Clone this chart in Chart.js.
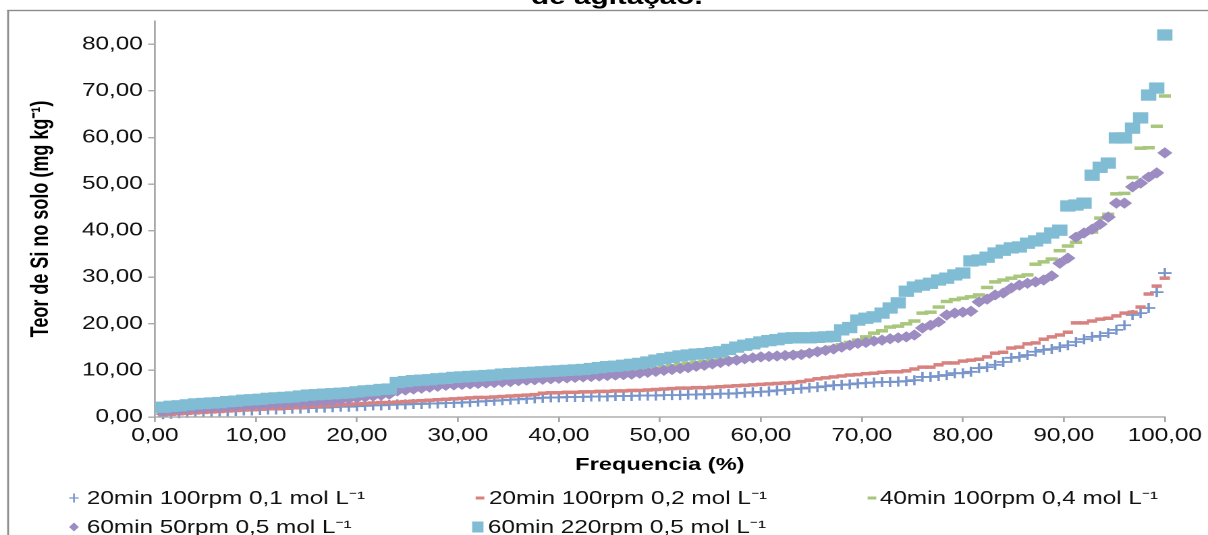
<!DOCTYPE html>
<html>
<head>
<meta charset="utf-8">
<script src="https://cdn.jsdelivr.net/npm/chart.js@4.4.0/dist/chart.umd.min.js"></script>
<style>
html,body{margin:0;padding:0;background:#ffffff;overflow:hidden;}
</style>
</head>
<body>
<canvas id="c" width="895" height="535" style="width:1208px;height:535px;display:block;"></canvas>
<script>
// ---------------- DATA ----------------
const chartTitle = "de agitação.";
const xTitle = "Frequencia (%)";
const yTitle = "Teor de Si no solo (mg kg⁻¹)";
const seriesNames = [
  "20min 100rpm 0,1 mol L⁻¹",
  "20min 100rpm 0,2 mol L⁻¹",
  "40min 100rpm 0,4 mol L⁻¹",
  "60min 50rpm 0,5 mol L⁻¹",
  "60min 220rpm 0,5 mol L⁻¹"
];
const xTicks = [0, 10, 20, 30, 40, 50, 60, 70, 80, 90, 100];
const yTicks = [0, 10, 20, 30, 40, 50, 60, 70, 80];

// cumulative frequency (%) of each ranked sample
const freq = [0.8, 1.6, 2.4, 3.2, 4.0, 4.8, 5.6, 6.4, 7.2, 8.0,
  8.8, 9.6, 10.4, 11.2, 12.0, 12.8, 13.6, 14.4, 15.2, 16.0,
  16.8, 17.6, 18.4, 19.2, 20.0, 20.8, 21.6, 22.4, 23.2, 24.0,
  24.8, 25.6, 26.4, 27.2, 28.0, 28.8, 29.6, 30.4, 31.2, 32.0,
  32.8, 33.6, 34.4, 35.2, 36.0, 36.8, 37.6, 38.4, 39.2, 40.0,
  40.8, 41.6, 42.4, 43.2, 44.0, 44.8, 45.6, 46.4, 47.2, 48.0,
  48.8, 49.6, 50.4, 51.2, 52.0, 52.8, 53.6, 54.4, 55.2, 56.0,
  56.8, 57.6, 58.4, 59.2, 60.0, 60.8, 61.6, 62.4, 63.2, 64.0,
  64.8, 65.6, 66.4, 67.2, 68.0, 68.8, 69.6, 70.4, 71.2, 72.0,
  72.8, 73.6, 74.4, 75.2, 76.0, 76.8, 77.6, 78.4, 79.2, 80.0,
  80.8, 81.6, 82.4, 83.2, 84.0, 84.8, 85.6, 86.4, 87.2, 88.0,
  88.8, 89.6, 90.4, 91.2, 92.0, 92.8, 93.6, 94.4, 95.2, 96.0,
  96.8, 97.6, 98.4, 99.2, 100.0];

const s1 = [0.6, 0.7, 0.8, 0.9, 1.0, 1.0, 1.1, 1.2, 1.2, 1.3,
  1.4, 1.4, 1.5, 1.6, 1.6, 1.7, 1.8, 1.8, 1.9, 2.0,
  2.0, 2.1, 2.2, 2.2, 2.3, 2.4, 2.5, 2.5, 2.6, 2.7,
  2.7, 2.8, 2.8, 2.9, 2.9, 3.0, 3.0, 3.1, 3.2, 3.3,
  3.4, 3.5, 3.6, 3.7, 3.8, 3.9, 4.0, 4.1, 4.2, 4.2,
  4.3, 4.3, 4.3, 4.4, 4.4, 4.4, 4.5, 4.5, 4.5, 4.6,
  4.6, 4.6, 4.7, 4.7, 4.7, 4.8, 4.8, 4.9, 4.9, 5.0,
  5.0, 5.1, 5.2, 5.3, 5.4, 5.5, 5.7, 5.8, 6.0, 6.1,
  6.3, 6.4, 6.6, 6.8, 6.9, 7.0, 7.2, 7.3, 7.4, 7.5,
  7.5, 7.6, 7.7, 7.9, 8.6, 8.6, 8.8, 9.0, 9.4, 9.4,
  9.7, 10.5, 10.7, 11.2, 11.8, 12.7, 12.9, 13.3, 14.0, 14.4,
  14.6, 15.0, 15.4, 16.1, 16.7, 17.2, 17.4, 18.0, 18.7, 19.7,
  21.9, 22.3, 23.4, 26.8, 30.9];

const s2 = [0.4, 0.6, 0.7, 0.8, 0.9, 1.0, 1.1, 1.2, 1.3, 1.4,
  1.5, 1.6, 1.7, 1.8, 1.8, 1.9, 2.0, 2.1, 2.2, 2.3,
  2.4, 2.5, 2.6, 2.7, 2.8, 2.9, 3.0, 3.1, 3.1, 3.2,
  3.3, 3.4, 3.5, 3.6, 3.7, 3.8, 3.9, 4.0, 4.1, 4.2,
  4.2, 4.3, 4.4, 4.5, 4.6, 4.7, 4.8, 5.1, 5.2, 5.2,
  5.3, 5.3, 5.4, 5.4, 5.5, 5.5, 5.6, 5.6, 5.7, 5.7,
  5.8, 5.9, 6.0, 6.1, 6.2, 6.2, 6.3, 6.3, 6.4, 6.5,
  6.6, 6.7, 6.8, 6.9, 7.0, 7.1, 7.2, 7.3, 7.4, 7.6,
  7.9, 8.2, 8.4, 8.6, 8.8, 9.0, 9.1, 9.3, 9.4, 9.6,
  9.7, 9.7, 9.9, 10.3, 10.7, 10.7, 11.2, 11.6, 11.6, 12.0,
  12.2, 12.4, 12.9, 13.7, 13.9, 14.8, 15.0, 15.7, 15.9, 16.7,
  17.2, 17.6, 18.2, 20.2, 20.2, 20.6, 21.0, 21.2, 21.7, 22.3,
  22.5, 23.6, 26.4, 28.1, 29.8];

const s3 = [1.6, 1.8, 2.0, 2.1, 2.2, 2.3, 2.4, 2.5, 2.6, 2.7,
  2.8, 2.9, 3.0, 3.1, 3.2, 3.3, 3.4, 3.5, 3.6, 3.7,
  3.8, 3.9, 4.1, 4.3, 4.5, 4.7, 4.9, 5.1, 5.3, 6.0,
  6.2, 6.4, 6.6, 6.8, 7.0, 7.2, 7.3, 7.4, 7.5, 7.6,
  7.7, 7.8, 7.9, 8.0, 8.1, 8.2, 8.3, 8.4, 8.5, 8.6,
  8.7, 8.8, 8.9, 9.0, 9.1, 9.2, 9.3, 9.5, 9.7, 9.9,
  10.1, 10.4, 10.7, 11.0, 11.3, 11.5, 11.7, 11.9, 12.1, 12.2,
  12.4, 12.5, 12.6, 12.8, 13.0, 13.2, 13.3, 13.4, 13.6, 13.8,
  14.0, 14.2, 14.6, 15.0, 15.5, 16.0, 16.5, 17.2, 18.0, 18.5,
  19.3, 19.5, 20.0, 20.6, 22.3, 22.5, 23.6, 24.8, 25.2, 25.5,
  25.8, 26.2, 27.8, 29.0, 29.4, 29.8, 30.2, 30.5, 32.8, 33.3,
  33.9, 35.7, 36.7, 37.5, 39.5, 39.7, 42.7, 43.5, 47.9, 48.0,
  51.4, 57.7, 57.8, 62.4, 68.9];

const s4 = [1.2, 1.4, 1.5, 1.7, 1.8, 1.9, 2.0, 2.1, 2.2, 2.3,
  2.4, 2.5, 2.6, 2.7, 2.8, 2.9, 3.0, 3.1, 3.2, 3.3,
  3.4, 3.5, 3.7, 3.9, 4.1, 4.3, 4.5, 4.7, 4.9, 5.6,
  5.8, 6.0, 6.2, 6.4, 6.6, 6.8, 6.9, 7.0, 7.1, 7.2,
  7.3, 7.4, 7.5, 7.6, 7.8, 7.9, 8.0, 8.1, 8.2, 8.3,
  8.4, 8.5, 8.6, 8.7, 8.8, 8.9, 9.0, 9.1, 9.2, 9.4,
  9.6, 9.8, 10.0, 10.2, 10.4, 10.6, 10.9, 11.1, 11.4, 11.7,
  12.0, 12.2, 12.5, 12.7, 12.9, 13.0, 13.1, 13.2, 13.3, 13.4,
  13.7, 14.0, 14.3, 14.6, 15.0, 15.4, 15.8, 16.0, 16.3, 16.5,
  16.8, 17.0, 17.2, 17.6, 19.1, 19.7, 20.4, 21.9, 22.3, 22.5,
  22.7, 24.7, 25.3, 26.2, 26.6, 27.7, 28.3, 28.7, 29.0, 29.4,
  30.3, 33.0, 34.1, 38.6, 39.5, 40.3, 41.4, 42.9, 45.9, 45.9,
  49.4, 50.2, 51.5, 52.4, 56.7];

const s5 = [2.1, 2.3, 2.4, 2.6, 2.8, 2.9, 3.0, 3.1, 3.3, 3.4,
  3.6, 3.7, 3.8, 4.0, 4.1, 4.2, 4.3, 4.5, 4.7, 4.8,
  4.9, 5.0, 5.1, 5.2, 5.4, 5.6, 5.7, 5.9, 6.0, 7.4,
  7.6, 7.8, 7.9, 8.0, 8.2, 8.3, 8.5, 8.6, 8.7, 8.8,
  8.9, 9.0, 9.2, 9.3, 9.4, 9.5, 9.6, 9.7, 9.8, 9.9,
  10.0, 10.1, 10.2, 10.4, 10.6, 10.8, 10.9, 11.1, 11.3, 11.5,
  11.8, 12.2, 12.5, 12.8, 13.1, 13.3, 13.5, 13.6, 13.8, 14.0,
  14.5, 15.0, 15.4, 15.7, 16.1, 16.4, 16.6, 16.9, 17.0, 17.0,
  17.0, 17.1, 17.2, 17.3, 18.7, 19.2, 20.8, 21.2, 21.5, 22.3,
  23.4, 24.5, 27.0, 27.9, 28.3, 28.7, 29.4, 29.8, 30.5, 30.9,
  33.5, 33.7, 34.3, 35.2, 35.8, 36.3, 36.5, 37.3, 37.8, 38.4,
  39.5, 40.1, 45.3, 45.5, 45.9, 51.9, 53.6, 54.5, 59.9, 59.9,
  62.0, 64.2, 69.1, 70.6, 82.0];

// ---------------- STYLE ----------------
const FONT = '"Liberation Sans", Arial, Helvetica, sans-serif';
const AXIS_COLOR = '#a9a9a9';
const seriesValues = [s1, s2, s3, s4, s5];
const colors = ['#7895cb', '#d8827f', '#a8c77c', '#9c8cc1', '#80bdd4'];
const styles = [
  {pointStyle: 'cross', radius: 5.0, border: 1.8},
  {pointStyle: 'line', radius: 3.8, border: 3.5},
  {pointStyle: 'line', radius: 4.5, border: 3.5},
  {pointStyle: 'rectRot', radius: 5.6, border: 0},
  {pointStyle: 'rect', radius: 8.0, border: 0}
];

const fmt = v => Number(v).toFixed(2).replace('.', ',');

const datasets = seriesValues.map((vals, k) => ({
  label: seriesNames[k],
  data: freq.map((f, i) => ({x: f, y: vals[i]})),
  showLine: false,
  pointStyle: styles[k].pointStyle,
  pointRadius: styles[k].radius,
  pointHoverRadius: styles[k].radius,
  pointBorderWidth: styles[k].border,
  pointBorderColor: colors[k],
  pointBackgroundColor: colors[k],
  borderColor: colors[k],
  backgroundColor: colors[k],
  order: 5 - k,
  clip: false
}));

// legend positions (canvas units)
const legendItems = [
  {mx: 54.8, tx: 64.4, y: 498},
  {mx: 355.6, tx: 362.2, y: 498},
  {mx: 646.0, tx: 651.9, y: 498},
  {mx: 54.8, tx: 64.4, y: 527},
  {mx: 354.0, tx: 361.5, y: 527}
];

function drawMarker(ctx, k, x, y) {
  ctx.save();
  ctx.strokeStyle = colors[k];
  ctx.fillStyle = colors[k];
  const st = styles[k].pointStyle;
  if (st === 'cross') {
    ctx.lineWidth = 1.3;
    ctx.beginPath();
    ctx.moveTo(x - 3.5, y); ctx.lineTo(x + 3.5, y);
    ctx.moveTo(x, y - 4.5); ctx.lineTo(x, y + 4.5);
    ctx.stroke();
  } else if (st === 'line') {
    ctx.lineWidth = 3;
    ctx.beginPath();
    ctx.moveTo(x - 3.2, y); ctx.lineTo(x + 3.2, y);
    ctx.stroke();
  } else if (st === 'rectRot') {
    ctx.beginPath();
    ctx.moveTo(x, y - 4.5); ctx.lineTo(x + 3.6, y); ctx.lineTo(x, y + 4.5); ctx.lineTo(x - 3.6, y);
    ctx.closePath(); ctx.fill();
  } else {
    ctx.fillRect(x - 4.2, y - 5.5, 8.4, 11);
  }
  ctx.restore();
}

const decorPlugin = {
  id: 'decor',
  beforeDraw(chart) {
    const ctx = chart.ctx;
    ctx.save();
    ctx.fillStyle = '#ffffff';
    ctx.fillRect(0, 0, chart.width, chart.height);
    ctx.fillStyle = '#8c8c8c';
    ctx.fillRect(5.3, 10, 1.4, chart.height);
    ctx.fillRect(5.3, 9.8, chart.width, 1.4);
    ctx.fillStyle = '#000000';
    ctx.font = 'bold 22px ' + FONT;
    ctx.textAlign = 'center';
    ctx.textBaseline = 'alphabetic';
    ctx.fillText(chartTitle, 457, 4);
    ctx.restore();
  },
  afterDraw(chart) {
    const ctx = chart.ctx;
    const a = chart.chartArea;
    ctx.save();
    ctx.fillStyle = AXIS_COLOR;
    ctx.fillRect(a.left - 0.7, a.bottom - 0.7, a.right - a.left + 1.4, 1.4);
    ctx.font = '18px ' + FONT;
    ctx.fillStyle = '#111111';
    ctx.textAlign = 'left';
    ctx.textBaseline = 'middle';
    legendItems.forEach((it, k) => {
      drawMarker(ctx, k, it.mx, it.y);
      ctx.fillText(seriesNames[k], it.tx, it.y + 1);
    });
    ctx.restore();
  }
};

new Chart(document.getElementById('c'), {
  type: 'scatter',
  data: {datasets},
  plugins: [decorPlugin],
  options: {
    responsive: false,
    devicePixelRatio: 2,
    animation: false,
    events: [],
    layout: {padding: {left: 0, top: 21, right: 32, bottom: 0}},
    plugins: {
      legend: {display: false},
      tooltip: {enabled: false},
      title: {display: false}
    },
    scales: {
      x: {
        type: 'linear',
        min: xTicks[0],
        max: xTicks[xTicks.length - 1],
        afterBuildTicks: s => { s.ticks = xTicks.map(v => ({value: v})); },
        afterFit: s => { s.height = 118; },
        ticks: {
          callback: v => fmt(v),
          font: {family: FONT, size: 18},
          color: '#111111',
          padding: 3,
          maxRotation: 0,
          autoSkip: false
        },
        grid: {drawOnChartArea: false, drawTicks: true, tickLength: 5, color: AXIS_COLOR, lineWidth: 1.4},
        border: {display: false},
        title: {
          display: true,
          text: xTitle,
          font: {family: FONT, size: 17.5, weight: 'bold'},
          color: '#000000',
          padding: {top: 0, bottom: 59.5}
        }
      },
      y: {
        type: 'linear',
        min: 0,
        max: 85,
        afterBuildTicks: s => { s.ticks = yTicks.map(v => ({value: v})); },
        afterFit: s => { s.width = 114.8; },
        ticks: {
          callback: v => fmt(v),
          font: {family: FONT, size: 18},
          color: '#111111',
          padding: 4,
          autoSkip: false
        },
        grid: {drawOnChartArea: false, drawTicks: true, tickLength: 5, color: AXIS_COLOR, lineWidth: 1.4},
        border: {display: true, color: AXIS_COLOR, width: 1.4},
        title: {
          display: true,
          text: yTitle,
          font: {family: FONT, size: 18, weight: 'bold'},
          color: '#000000',
          padding: {top: 19.6, bottom: 0}
        }
      }
    }
  }
});
</script>
</body>
</html>
